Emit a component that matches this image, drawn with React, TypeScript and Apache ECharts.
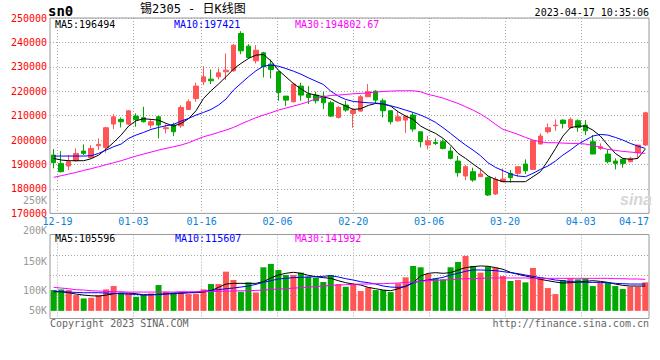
import React, { useEffect, useRef } from 'react';
import * as echarts from 'echarts';

const dates = [
  '12-16', '12-19', '12-20', '12-21', '12-22', '12-23', '12-26', '12-27', '12-28', '12-29', '12-30',
  '01-03', '01-04', '01-05', '01-06', '01-09', '01-10', '01-11', '01-12', '01-13',
  '01-16', '01-17', '01-18', '01-19', '01-20',
  '01-30', '01-31', '02-01', '02-02', '02-03',
  '02-06', '02-07', '02-08', '02-09', '02-10',
  '02-13', '02-14', '02-15', '02-16', '02-17',
  '02-20', '02-21', '02-22', '02-23', '02-24',
  '02-27', '02-28', '03-01', '03-02', '03-03',
  '03-06', '03-07', '03-08', '03-09', '03-10',
  '03-13', '03-14', '03-15', '03-16', '03-17',
  '03-20', '03-21', '03-22', '03-23', '03-24',
  '03-27', '03-28', '03-29', '03-30', '03-31',
  '04-03', '04-04', '04-06', '04-07',
  '04-10', '04-11', '04-12', '04-13', '04-14',
  '04-17',
];

const tickDates = ['12-19', '01-03', '01-16', '02-06', '02-20', '03-06', '03-20', '04-03', '04-17'];

const openP = [
  193890, 190480, 189390, 191570, 195520, 192800, 197700, 197020, 206570, 208480,
  206570, 209840, 209160, 206160, 209570, 204660, 206160, 205890, 212570, 217060,
  223880, 224970, 225920, 227970, 228380, 243650, 238470, 232470, 235740, 231110,
  227970, 218020, 215700, 222110, 218840, 218430, 218020, 215290, 209290, 214340,
  210930, 211880, 217750, 220060, 216110, 212020, 207930, 208200, 210250, 203430,
  197980, 199070, 199340, 195520, 191430, 185300, 187070, 185030, 184620, 177940,
  182980, 186390, 186390, 190210, 188020, 198390, 203430, 205890, 208200, 205070,
  207930, 206160, 199340, 196610, 194300, 191430, 192120, 191160, 194840, 197980,
];
const closeP = [
  190750, 187070, 191160, 194570, 194570, 196610, 198250, 205070, 209570, 207520,
  212020, 208480, 207520, 207520, 206160, 205070, 203430, 213380, 215700, 222110,
  225920, 224290, 227560, 228650, 238880, 236560, 233830, 236830, 230010, 228920,
  219520, 216380, 222930, 218430, 217470, 216110, 215290, 209840, 213380, 212290,
  212290, 217750, 219790, 216380, 212020, 207520, 209570, 209840, 204520, 199340,
  199750, 198660, 196610, 192530, 186660, 189120, 183660, 186120, 177530, 183940,
  184070, 184620, 189120, 187480, 199750, 201660, 205070, 206160, 206840, 208480,
  205200, 203840, 194300, 197300, 191160, 190480, 190480, 192530, 197980, 211200,
];
const lowP = [
  188430, 186800, 187750, 191160, 193890, 192530, 195930, 194840, 204520, 205200,
  206160, 205480, 207250, 204790, 200700, 202750, 201660, 205070, 212290, 215700,
  222520, 222930, 224830, 224560, 227970, 235200, 233420, 231380, 225650, 225240,
  216110, 213930, 215430, 216110, 214750, 215020, 212700, 209500, 208880, 211610,
  205070, 211610, 217750, 215020, 209290, 206430, 207520, 203020, 203430, 197020,
  196200, 197980, 196200, 192120, 185030, 183660, 182980, 185030, 177120, 177530,
  182980, 182570, 185030, 186120, 187750, 198390, 202750, 203840, 204790, 204790,
  203430, 202070, 194300, 195930, 190480, 188020, 188710, 191160, 192530, 197700,
];
const highP = [
  196340, 195520, 193890, 196610, 198250, 197980, 200700, 205480, 210660, 209290,
  212290, 210930, 213650, 208480, 209970, 206430, 207110, 214340, 216660, 223470,
  230290, 228920, 229330, 235470, 239290, 244600, 239290, 238880, 236150, 233010,
  228380, 218020, 223470, 223470, 222110, 219790, 219790, 216100, 213930, 216110,
  212970, 218430, 222930, 220470, 217060, 212020, 211880, 210250, 211340, 203430,
  201660, 200700, 200290, 197300, 193480, 189800, 188710, 188430, 185030, 185030,
  188430, 187750, 189390, 192120, 200020, 202750, 206840, 208480, 208480, 209290,
  208480, 208200, 202070, 198660, 196200, 192530, 192530, 193210, 197980, 211610,
];

const ma5 = [
  192520, 191840, 191570, 191570, 191570, 192390, 193890, 196340, 199070, 202070,
  205750, 207930, 208750, 208480, 208200, 206840, 205750, 206840, 208750, 212020,
  217060, 220200, 222930, 225920, 229060, 231380, 233420, 234790, 235060, 232470,
  228650, 225920, 223200, 221020, 219110, 218430, 217750, 216930, 215290, 213930,
  212560, 212840, 214200, 215020, 214750, 213930, 211610, 209840, 208480, 205750,
  204110, 202750, 200700, 197980, 194570, 192520, 190210, 188020, 185300, 183940,
  182980, 182980, 182980, 182980, 185030, 187070, 191570, 196480, 201660, 205070,
  205750, 205750, 204110, 201660, 197980, 194570, 192520, 192120, 192520, 196340,
];
const ma10 = [
  193480, 193480, 193480, 193480, 193480, 193620, 194570, 195930, 197300, 198390,
  200700, 202070, 203160, 204390, 205200, 205880, 206430, 207790, 208880, 210250,
  211340, 212560, 214340, 216790, 220470, 223200, 225920, 228380, 230290, 230700,
  230290, 229330, 228240, 227020, 225520, 224150, 222790, 220060, 218020, 216660,
  215840, 215560, 215290, 215160, 214880, 214060, 213250, 212290, 211340, 210250,
  208880, 207250, 205070, 202750, 200300, 197980, 195930, 193620, 190750, 188840,
  187480, 186120, 185300, 185030, 186390, 188020, 189390, 191430, 193890, 195930,
  198250, 200020, 201660, 202340, 202070, 201110, 200020, 198660, 197570, 196610,
];
const ma30 = [
  184750, 185440, 186120, 186800, 187620, 188300, 189120, 189930, 190750, 191570,
  192520, 193480, 194300, 195110, 195930, 196610, 197300, 197980, 198930, 200160,
  201390, 202200, 203160, 204110, 205200, 206570, 207930, 209160, 210250, 211200,
  212290, 213110, 213930, 214750, 215700, 216930, 217750, 218290, 218430, 218700,
  218970, 219110, 219380, 219650, 219930, 220060, 220200, 220200, 220200, 219790,
  218700, 218020, 217200, 216110, 215020, 213660, 212290, 210660, 208750, 206430,
  204390, 203430, 202340, 201110, 200020, 199340, 198930, 198930, 198790, 198660,
  198660, 198390, 197840, 197020, 196200, 195800, 195390, 195110, 194840, 194570,
];

const volume = [
  101750, 103420, 101750, 89250, 80920, 82580, 89250, 103420, 111750, 95080,
  93420, 85080, 89250, 93420, 114250, 97580, 95080, 95080, 91750, 91750,
  103420, 116750, 116750, 147580, 126750, 97580, 120920, 95920, 158420, 166750,
  151750, 139250, 139250, 145080, 135080, 132580, 121750, 139250, 116750, 110080,
  116750, 99250, 108420, 101750, 101750, 96750, 118420, 133420, 161750, 158420,
  141750, 130920, 128420, 158420, 171750, 186750, 161750, 145080, 160080, 157580,
  136750, 124250, 126750, 120920, 156750, 133420, 106750, 91750, 126750, 130920,
  128420, 130920, 111750, 120080, 120080, 111750, 104250, 110080, 110080, 120920,
];
const volMa5 = [
  97580, 97580, 95080, 91750, 89250, 87580, 86750, 89250, 92580, 94250,
  94250, 92580, 90080, 90080, 90920, 92580, 94250, 95080, 95080, 95080,
  96750, 100080, 108420, 116750, 118420, 118420, 118420, 118420, 122580, 131750,
  139250, 143420, 145920, 143420, 138420, 135080, 132580, 130920, 125080, 120080,
  116750, 114250, 108420, 105080, 101750, 100080, 105080, 111750, 120080, 136750,
  143420, 145080, 143420, 145080, 151750, 157580, 160080, 161750, 160920, 157580,
  153420, 145920, 140920, 136750, 132580, 128420, 125080, 121750, 119250, 120080,
  121750, 123420, 125080, 123420, 120920, 116750, 113420, 111750, 111750, 111750,
];
const volMa10 = [
  99250, 97580, 96750, 95920, 95080, 95080, 95080, 94250, 93420, 92580,
  91750, 90920, 89250, 90080, 90920, 91750, 92580, 93420, 95080, 96750,
  98420, 100920, 102580, 105080, 106750, 109250, 111750, 115920, 120920, 125080,
  129250, 130920, 132580, 133420, 134250, 135080, 135920, 137580, 134250, 130080,
  126750, 122580, 120080, 116750, 111750, 109250, 108420, 110080, 120080, 124250,
  126750, 130080, 133420, 139250, 143420, 148420, 151750, 151750, 150920, 150080,
  147580, 145080, 142580, 139250, 135920, 132580, 130080, 126750, 125080, 122580,
  121750, 120920, 120920, 120920, 120080, 118420, 117580, 116750, 116750, 116750,
];
const volMa30 = [
  108420, 106750, 105080, 102580, 101750, 100080, 99250, 98420, 97580, 97580,
  96750, 96750, 96750, 96750, 96750, 96750, 96750, 97580, 97580, 97580,
  97580, 98420, 98420, 99250, 99250, 100080, 100080, 100920, 101750, 103420,
  104250, 105080, 106750, 107580, 109250, 110080, 111750, 113420, 114250, 115080,
  115920, 116750, 116750, 117580, 117580, 118420, 119250, 120920, 121750, 123420,
  125080, 125920, 126750, 127580, 129250, 130080, 130080, 130920, 131750, 131750,
  131750, 131750, 131750, 131750, 130920, 130920, 130920, 130920, 130920, 130920,
  130920, 130920, 130920, 130920, 130920, 130080, 130080, 129250, 129250, 128420,
];

const volTickLabels = ['250K', '200K', '150K', '100K', '50K'];

const titleText = '锡2305 - 日K线图';
const codeText = 'sn0';
const timeText = '2023-04-17 10:35:06';
const priceLegend = ['MA5:196494', 'MA10:197421', 'MA30:194802.67'];
const volLegend = ['MA5:105596', 'MA10:115607', 'MA30:141992'];
const copyrightText = 'Copyright 2023 SINA.COM';
const urlText = 'http://finance.sina.com.cn';

const VOL_BASE = 50000;

const RED = '#ff5555';
const GREEN = '#00a800';
const MONO = '"DejaVu Sans Mono", monospace';
const GRIDLINE = { color: '#a8a8a8', type: [1, 2] as any, width: 1 };
const LEGEND_COLORS = ['#000000', '#0000ff', '#ff00ff'];

function txt(x: number, y: number, text: string, fill: string, extra: any = {}) {
  const align = extra.align || 'left';
  return {
    type: 'text',
    x,
    y,
    silent: true,
    z: 100,
    style: {
      text,
      fill,
      fontSize: extra.fontSize || 10,
      fontFamily: extra.fontFamily || MONO,
      fontWeight: extra.fontWeight || 'normal',
      fontStyle: extra.fontStyle || 'normal',
      textAlign: align,
      align,
      textVerticalAlign: 'middle',
      verticalAlign: 'middle',
    },
  };
}

export default function App() {
  const ref = useRef<HTMLDivElement>(null);

  useEffect(() => {
    if (!ref.current) return;
    const chart = echarts.init(ref.current, null, { renderer: 'svg' });
    const last = tickDates[tickDates.length - 1];
    const isTick = (_i: number, v: string) => tickDates.includes(v);
    const isGridTick = (_i: number, v: string) => tickDates.includes(v) && v !== last;

    const ohlc = dates.map((_, i) => [openP[i], closeP[i], lowP[i], highP[i]]);
    const volTickY = [200, 230, 261, 290, 310];

    const graphic: any[] = [
      txt(48, 11, codeText, '#000', { fontSize: 14, fontWeight: 'bold' }),
      txt(140, 9, titleText, '#000', { fontSize: 12, fontFamily: '"DejaVu Sans Mono", "Noto Sans CJK SC", sans-serif' }),
      txt(649, 12, timeText, '#000', { align: 'right' }),
      txt(55, 24, priceLegend[0], LEGEND_COLORS[0]),
      txt(174, 24, priceLegend[1], LEGEND_COLORS[1]),
      txt(295, 24, priceLegend[2], LEGEND_COLORS[2]),
      txt(55, 238.5, volLegend[0], LEGEND_COLORS[0]),
      txt(175, 238.5, volLegend[1], LEGEND_COLORS[1]),
      txt(295, 238.5, volLegend[2], LEGEND_COLORS[2]),
      txt(50, 323.5, copyrightText, '#666'),
      txt(649, 323.5, urlText, '#666', { align: 'right' }),
      txt(636, 199, 'sina', '#d6d6d6', {
        align: 'center', fontSize: 16, fontWeight: 'bold', fontStyle: 'italic',
        fontFamily: '"Liberation Sans", sans-serif',
      }),
    ];
    volTickLabels.forEach((t, i) => graphic.push(txt(47, volTickY[i], t, '#999', { align: 'right' })));

    const option: any = {
      animation: false,
      backgroundColor: '#ffffff',
      grid: [
        { left: 50, right: 11, top: 18, height: 195.4, show: true, borderColor: '#999', borderWidth: 1, backgroundColor: 'transparent' },
        { left: 50, right: 11, top: 234.5, height: 84, show: true, borderColor: '#999', borderWidth: 1, backgroundColor: 'transparent' },
        { left: 50, right: 11, top: 255, height: 40, show: false },
      ],
      xAxis: [
        { type: 'category', gridIndex: 0, data: dates, boundaryGap: true, show: false },
        {
          type: 'category', gridIndex: 0, data: dates, boundaryGap: false, position: 'bottom',
          axisLine: { show: false }, axisTick: { show: false },
          axisLabel: {
            interval: isTick, color: '#0b7fd6', fontFamily: MONO, fontSize: 10, margin: 3,
            formatter: (v: string) => (v === last ? '{r|' + v + '}' : v),
            rich: { r: { padding: [0, 30, 0, 0], color: '#0b7fd6', fontFamily: MONO, fontSize: 10 } },
          },
          splitLine: { show: true, interval: isGridTick, lineStyle: GRIDLINE },
        },
        { type: 'category', gridIndex: 1, data: dates, boundaryGap: true, show: false },
        {
          type: 'category', gridIndex: 1, data: dates, boundaryGap: false, position: 'bottom',
          axisLine: { show: false }, axisTick: { show: false }, axisLabel: { show: false },
          splitLine: { show: true, interval: isGridTick, lineStyle: GRIDLINE },
        },
        { type: 'value', gridIndex: 2, show: false, min: 0, max: 1 },
      ],
      yAxis: [
        {
          type: 'value', gridIndex: 0, min: 170000, max: 250000, interval: 10000,
          axisLine: { show: false }, axisTick: { show: false },
          axisLabel: {
            color: '#ff0000', fontFamily: MONO, fontSize: 10, margin: 3,
            showMinLabel: true, showMaxLabel: true,
            formatter: (v: number) => String(Math.round(v)),
          },
          splitLine: { show: true, lineStyle: GRIDLINE },
        },
        { type: 'value', gridIndex: 1, min: 31000, max: 240000, show: false },
        {
          type: 'value', gridIndex: 2, min: 0, max: 40, interval: 20,
          axisLine: { show: false }, axisTick: { show: false }, axisLabel: { show: false },
          splitLine: { show: true, lineStyle: GRIDLINE },
        },
      ],
      series: [
        {
          type: 'candlestick', xAxisIndex: 0, yAxisIndex: 0, data: ohlc, barWidth: 5,
          itemStyle: { color: RED, color0: GREEN, borderColor: RED, borderColor0: GREEN, borderColorDoji: RED, borderWidth: 1 },
          silent: true,
        },
        { type: 'line', xAxisIndex: 0, yAxisIndex: 0, data: ma5, symbol: 'none', silent: true, lineStyle: { color: LEGEND_COLORS[0], width: 1 } },
        { type: 'line', xAxisIndex: 0, yAxisIndex: 0, data: ma10, symbol: 'none', silent: true, lineStyle: { color: LEGEND_COLORS[1], width: 1 } },
        { type: 'line', xAxisIndex: 0, yAxisIndex: 0, data: ma30, symbol: 'none', silent: true, lineStyle: { color: LEGEND_COLORS[2], width: 1 } },
        {
          type: 'bar', xAxisIndex: 2, yAxisIndex: 1, stack: 'vol', barWidth: 6, silent: true,
          data: dates.map(() => VOL_BASE), itemStyle: { color: 'rgba(0,0,0,0)' },
        },
        {
          type: 'bar', xAxisIndex: 2, yAxisIndex: 1, stack: 'vol', barWidth: 6, silent: true,
          data: volume.map((v, i) => ({
            value: v - VOL_BASE,
            itemStyle: { color: closeP[i] >= openP[i] ? RED : GREEN },
          })),
        },
        { type: 'line', xAxisIndex: 2, yAxisIndex: 1, data: volMa5, symbol: 'none', silent: true, lineStyle: { color: LEGEND_COLORS[0], width: 1 } },
        { type: 'line', xAxisIndex: 2, yAxisIndex: 1, data: volMa10, symbol: 'none', silent: true, lineStyle: { color: LEGEND_COLORS[1], width: 1 } },
        { type: 'line', xAxisIndex: 2, yAxisIndex: 1, data: volMa30, symbol: 'none', silent: true, lineStyle: { color: LEGEND_COLORS[2], width: 1 } },
      ],
      graphic,
    };

    chart.setOption(option);
    return () => chart.dispose();
  }, []);

  return (
    <div
      ref={ref}
      style={{ position: 'fixed', left: 0, top: 0, width: 660, height: 360, background: '#fff' }}
    />
  );
}
